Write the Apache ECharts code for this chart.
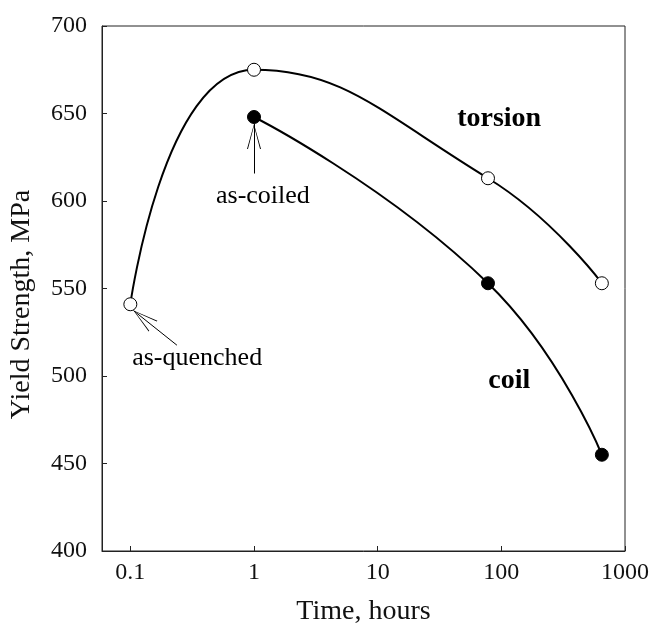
<!DOCTYPE html>
<html>
<head>
<meta charset="utf-8">
<script src="https://cdn.jsdelivr.net/npm/echarts@6/dist/echarts.min.js"></script>
<style>
  html, body { margin: 0; padding: 0; background: #fff; }
  #chart { width: 654px; height: 631px; }
</style>
</head>
<body>
<div id="chart"></div>
<script>
// values
const torsionTime = [0.1, 1, 78, 650];
const torsionYield = [541, 675, 613, 553];
const coilTime = [1, 78, 650];
const coilYield = [648, 553, 455];
const xTicks = [0.1, 1, 10, 100, 1000];

const font = 'Liberation Serif';
// thin open "V" arrow head; empty upper half so the tip sits on the line end
const arrowHead = 'path://M5,0 Z M5,20 L10,40 L9.3,40 L5,21.6 L0.7,40 L0,40 Z';

const chart = echarts.init(document.getElementById('chart'));

const annotText = { show: true, position: 'inside', fontFamily: font, fontSize: 26, color: '#000' };

const option = {
  animation: false,
  grid: {
    left: 101, right: 29, top: 26, bottom: 75,
    show: true, borderColor: '#222', borderWidth: 1
  },
  xAxis: {
    type: 'log',
    logBase: 10,
    min: 0.059,
    max: 1000,
    name: 'Time, hours',
    nameLocation: 'middle',
    nameGap: 47,
    nameTextStyle: { fontFamily: font, fontSize: 28, color: '#111' },
    axisLine: { lineStyle: { color: '#222', width: 1 } },
    axisTick: { inside: true, length: 5, customValues: xTicks, lineStyle: { color: '#222' } },
    axisLabel: {
      customValues: xTicks,
      margin: 10,
      fontFamily: font, fontSize: 24, color: '#111',
      formatter: v => String(v)
    },
    minorTick: { show: false },
    splitLine: { show: false }
  },
  yAxis: {
    type: 'value',
    min: 400,
    max: 700,
    interval: 50,
    name: 'Yield Strength, MPa',
    nameLocation: 'middle',
    nameGap: 66,
    nameTextStyle: { fontFamily: font, fontSize: 28, color: '#111', padding: [0, 32, 0, 0] },
    axisLine: { show: true, lineStyle: { color: '#222', width: 1 } },
    axisTick: { show: true, inside: true, length: 5, lineStyle: { color: '#222' } },
    axisLabel: { margin: 15, fontFamily: font, fontSize: 24, color: '#111' },
    splitLine: { show: false }
  },
  series: [
    {
      name: 'torsion',
      type: 'line',
      smooth: 0.5,
      data: torsionTime.map((t, i) => [t, torsionYield[i]]),
      symbol: 'circle',
      symbolSize: 13,
      lineStyle: { color: '#000', width: 2 },
      itemStyle: { color: '#fff', borderColor: '#000', borderWidth: 1 },
      z: 3,
      markPoint: {
        symbol: 'circle', symbolSize: 1,
        itemStyle: { color: 'rgba(0,0,0,0)' },
        label: annotText,
        data: [
          { coord: [96, 647], value: 'torsion', label: { fontWeight: 'bold', fontSize: 28 } },
          { coord: [0.347, 510], value: 'as-quenched' }
        ]
      },
      markLine: {
        silent: true,
        symbol: ['none', arrowHead],
        symbolSize: [14, 50],
        label: { show: false },
        lineStyle: { color: '#000', width: 1, type: 'solid' },
        data: [[{ coord: [0.238, 517.6] }, { coord: [0.106, 537.4] }]]
      }
    },
    {
      name: 'coil',
      type: 'line',
      smooth: 0.5,
      data: coilTime.map((t, i) => [t, coilYield[i]]),
      symbol: 'circle',
      symbolSize: 13,
      lineStyle: { color: '#000', width: 2 },
      itemStyle: { color: '#000', borderColor: '#000', borderWidth: 1 },
      z: 3,
      markPoint: {
        symbol: 'circle', symbolSize: 1,
        itemStyle: { color: 'rgba(0,0,0,0)' },
        label: annotText,
        data: [
          { coord: [116, 497.4], value: 'coil', label: { fontWeight: 'bold', fontSize: 28 } },
          { coord: [1.18, 603], value: 'as-coiled' }
        ]
      },
      markLine: {
        silent: true,
        symbol: ['none', arrowHead],
        symbolSize: [14, 50],
        label: { show: false },
        lineStyle: { color: '#000', width: 1, type: 'solid' },
        data: [[{ coord: [1, 615.7] }, { coord: [1, 644] }]]
      }
    }
  ]
};

chart.setOption(option);
</script>
</body>
</html>
